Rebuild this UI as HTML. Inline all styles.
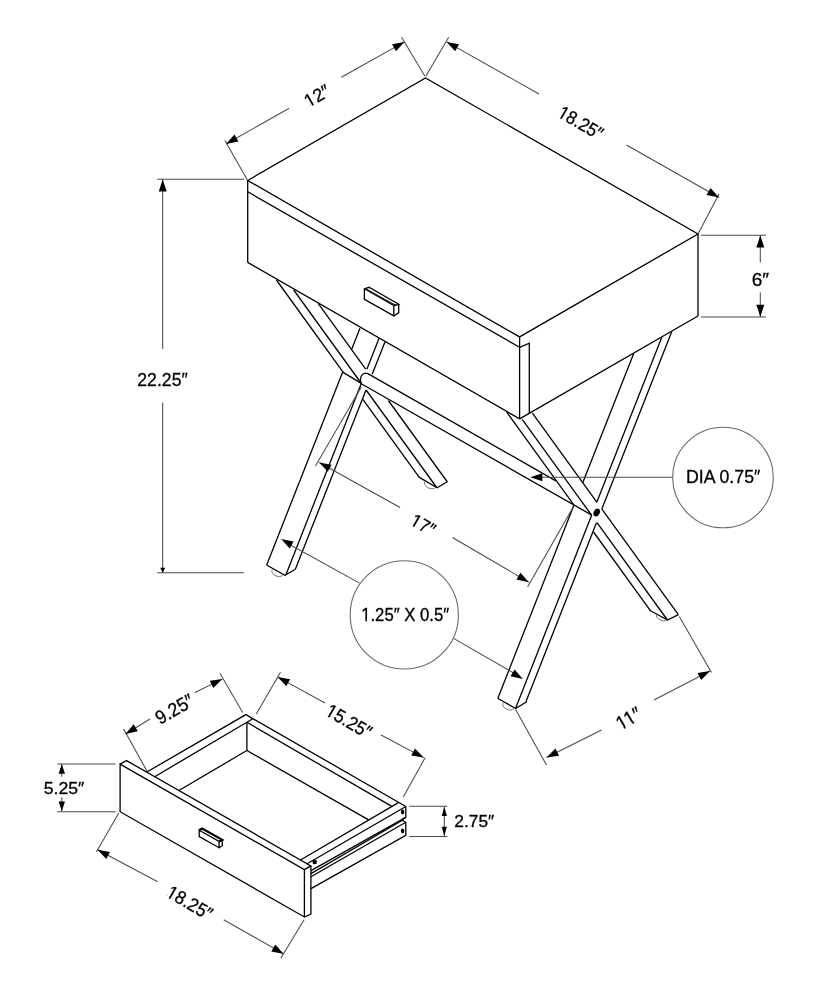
<!DOCTYPE html>
<html><head><meta charset="utf-8"><style>
html,body{margin:0;padding:0;background:#fff;}
svg{display:block;will-change:transform;}
text{font-family:"Liberation Sans",sans-serif;fill:#000;stroke:#000;stroke-width:0.3px;}
</style></head><body>
<svg width="824" height="1000" viewBox="0 0 824 1000">
<path d="M247.70 180.50 L425.50 78.00 L698.00 234.00 L519.60 336.90Z" stroke="#000" stroke-width="1.3" fill="none"/>
<path d="M247.70 180.50 L247.70 262.40" stroke="#000" stroke-width="1.3" fill="none"/>
<path d="M247.70 191.80 L519.60 347.30" stroke="#000" stroke-width="1.3" fill="none"/>
<path d="M247.70 262.40 L519.60 418.90" stroke="#000" stroke-width="1.3" fill="none"/>
<path d="M519.60 336.90 L519.60 418.90" stroke="#000" stroke-width="1.3" fill="none"/>
<path d="M519.60 347.30 L529.30 343.20 L529.30 413.30" stroke="#000" stroke-width="1.3" fill="none"/>
<path d="M698.00 234.00 L698.00 316.00" stroke="#000" stroke-width="1.3" fill="none"/>
<path d="M519.60 418.90 L698.00 316.00" stroke="#000" stroke-width="1.3" fill="none"/>
<path d="M364.40 288.80 L393.80 305.50 L393.80 315.80 L364.40 299.40Z" stroke="#000" stroke-width="1.3" fill="none"/>
<path d="M364.40 288.80 L369.00 287.30 L398.70 304.30 L393.80 305.50" stroke="#000" stroke-width="1.3" fill="none"/>
<path d="M366.50 289.10 L396.30 305.50" stroke="#000" stroke-width="0.9" fill="none"/>
<path d="M398.70 304.30 L398.70 312.80 L393.80 315.80" stroke="#000" stroke-width="1.3" fill="none"/>
<path d="M276.40 280.00 L343.08 372.10" stroke="#000" stroke-width="1.3" fill="none"/>
<path d="M362.85 399.40 L419.10 477.10" stroke="#000" stroke-width="1.3" fill="none"/>
<path d="M293.70 290.00 L360.67 382.50" stroke="#000" stroke-width="1.3" fill="none"/>
<path d="M366.10 390.00 L436.69 487.50" stroke="#000" stroke-width="1.3" fill="none"/>
<path d="M318.30 303.70 L365.72 369.20" stroke="#000" stroke-width="1.3" fill="none"/>
<path d="M388.38 400.50 L447.03 481.50" stroke="#000" stroke-width="1.3" fill="none"/>
<path d="M359.96 328.30 L351.72 349.20" stroke="#000" stroke-width="1.3" fill="none"/>
<path d="M342.70 372.10 L266.58 565.30" stroke="#000" stroke-width="1.3" fill="none"/>
<path d="M379.07 338.30 L366.89 369.20" stroke="#000" stroke-width="1.3" fill="none"/>
<path d="M361.30 383.40 L285.73 575.20" stroke="#000" stroke-width="1.3" fill="none"/>
<path d="M384.95 341.90 L372.19 374.30" stroke="#000" stroke-width="1.3" fill="none"/>
<path d="M366.00 390.00 L295.36 569.30" stroke="#000" stroke-width="1.3" fill="none"/>
<path d="M342.70 372.10 L361.30 383.40" stroke="#000" stroke-width="1.3" fill="none"/>
<path d="M418.90 477.10 L437.10 487.70 L447.70 481.50" stroke="#000" stroke-width="1.3" fill="none"/>
<path d="M267.00 565.30 L284.90 575.20 L295.40 569.30" stroke="#000" stroke-width="1.3" fill="none"/>
<path d="M649.60 610.30 L667.60 620.00 L678.30 614.70" stroke="#000" stroke-width="1.3" fill="none"/>
<path d="M497.60 698.30 L515.60 708.50 L526.70 701.70" stroke="#000" stroke-width="1.3" fill="none"/>
<path d="M367.9 373.6 L555.8 480.9 M361.3 383.8 L591.4 514.9 M367.9 373.6 C362 371.5 359 378 361.3 383.8" stroke="#000" stroke-width="1.3" fill="none"/>
<path d="M506.70 412.10 L573.81 504.80" stroke="#000" stroke-width="1.3" fill="none"/>
<path d="M593.51 532.00 L650.20 610.30" stroke="#000" stroke-width="1.3" fill="none"/>
<path d="M522.20 419.40 L591.41 515.00" stroke="#000" stroke-width="1.3" fill="none"/>
<path d="M596.99 522.70 L667.43 620.00" stroke="#000" stroke-width="1.3" fill="none"/>
<path d="M532.40 413.10 L596.98 502.30" stroke="#000" stroke-width="1.3" fill="none"/>
<path d="M601.90 509.10 L678.36 614.70" stroke="#000" stroke-width="1.3" fill="none"/>
<path d="M633.70 353.50 L582.83 482.60" stroke="#000" stroke-width="1.3" fill="none"/>
<path d="M574.08 504.80 L497.85 698.30" stroke="#000" stroke-width="1.3" fill="none"/>
<path d="M661.68 337.50 L596.78 502.20" stroke="#000" stroke-width="1.3" fill="none"/>
<path d="M591.74 515.00 L515.50 708.50" stroke="#000" stroke-width="1.3" fill="none"/>
<path d="M671.61 332.00 L601.83 509.10" stroke="#000" stroke-width="1.3" fill="none"/>
<path d="M596.48 522.70 L525.95 701.70" stroke="#000" stroke-width="1.3" fill="none"/>
<ellipse cx="596.7" cy="512.5" rx="3" ry="4.2" transform="rotate(25 596.7 512.5)" fill="#000"/>
<path d="M272.5 569.3 A6 4 20 0 0 282.7 575.2" stroke="#777" stroke-width="1" fill="none"/>
<path d="M425.1 481.5 A6 4 20 0 0 435.7 487.3" stroke="#777" stroke-width="1" fill="none"/>
<path d="M503.4 702.7 A6 4 20 0 0 514.1 708.5" stroke="#777" stroke-width="1" fill="none"/>
<path d="M656.4 614.7 A6 4 20 0 0 666.6 620" stroke="#777" stroke-width="1" fill="none"/>
<path d="M157.20 179.20 L244.10 179.20" stroke="#4a4a4a" stroke-width="1.05" fill="none"/>
<path d="M157.20 572.80 L244.10 572.80" stroke="#4a4a4a" stroke-width="1.05" fill="none"/>
<path d="M162.70 179.50 L162.70 349.00" stroke="#4a4a4a" stroke-width="1.05" fill="none"/>
<path d="M162.70 402.50 L162.70 572.80" stroke="#4a4a4a" stroke-width="1.05" fill="none"/>
<path d="M162.70 179.50 L166.70 191.50 L158.70 191.50Z" fill="#000"/>
<path d="M162.70 572.80 L160.20 567.80 L165.20 567.80Z" fill="#000"/>
<g><text id="t_22_25" x="162.50" y="386.08" text-anchor="middle" font-size="18.87" textLength="50.37" lengthAdjust="spacingAndGlyphs">22.25″</text></g>
<path d="M247.70 180.50 L224.90 140.40" stroke="#4a4a4a" stroke-width="1.05" fill="none"/>
<path d="M424.90 76.30 L401.60 37.20" stroke="#4a4a4a" stroke-width="1.05" fill="none"/>
<path d="M226.00 144.00 L289.20 108.20" stroke="#4a4a4a" stroke-width="1.05" fill="none"/>
<path d="M341.40 77.30 L404.50 41.90" stroke="#4a4a4a" stroke-width="1.05" fill="none"/>
<path d="M226.00 144.00 L234.47 134.61 L238.41 141.57Z" fill="#000"/>
<path d="M404.50 41.90 L395.99 51.26 L392.08 44.28Z" fill="#000"/>
<g transform="rotate(-30 316.96 95.92)"><text id="t_12" x="316.96" y="102.25" text-anchor="middle" font-size="18.41" textLength="26.73" lengthAdjust="spacingAndGlyphs">12″</text><rect x="303.95" y="100.55" width="4.17" height="4.21" fill="#fff"/><rect x="309.86" y="100.55" width="4.25" height="4.21" fill="#fff"/></g>
<path d="M425.80 76.30 L448.70 37.20" stroke="#4a4a4a" stroke-width="1.05" fill="none"/>
<path d="M698.00 234.00 L719.00 194.00" stroke="#4a4a4a" stroke-width="1.05" fill="none"/>
<path d="M446.60 41.90 L539.00 94.00" stroke="#4a4a4a" stroke-width="1.05" fill="none"/>
<path d="M626.50 145.00 L719.00 197.50" stroke="#4a4a4a" stroke-width="1.05" fill="none"/>
<path d="M446.60 41.90 L459.02 44.31 L455.09 51.28Z" fill="#000"/>
<path d="M719.00 197.50 L706.59 195.06 L710.54 188.10Z" fill="#000"/>
<g transform="rotate(30 580.66 122.74)"><text id="t_18_25a" x="580.66" y="129.15" text-anchor="middle" font-size="18.63" textLength="48.51" lengthAdjust="spacingAndGlyphs">18.25″</text><rect x="556.74" y="127.42" width="3.88" height="4.23" fill="#fff"/><rect x="562.24" y="127.42" width="3.96" height="4.23" fill="#fff"/></g>
<path d="M701.00 235.20 L765.80 235.20" stroke="#4a4a4a" stroke-width="1.05" fill="none"/>
<path d="M701.00 317.00 L765.80 317.00" stroke="#4a4a4a" stroke-width="1.05" fill="none"/>
<path d="M760.30 235.40 L760.30 262.40" stroke="#4a4a4a" stroke-width="1.05" fill="none"/>
<path d="M760.30 292.60 L760.30 317.00" stroke="#4a4a4a" stroke-width="1.05" fill="none"/>
<path d="M760.30 235.40 L764.30 247.40 L756.30 247.40Z" fill="#000"/>
<path d="M760.30 316.80 L756.30 304.80 L764.30 304.80Z" fill="#000"/>
<g><text id="t_6" x="760.42" y="285.54" text-anchor="middle" font-size="17.48" textLength="17.39" lengthAdjust="spacingAndGlyphs">6″</text></g>
<circle cx="723" cy="477.5" r="50.3" stroke="#6a6a6a" stroke-width="1.1" fill="none"/>
<path d="M672.60 477.30 L535.00 477.30" stroke="#4a4a4a" stroke-width="1.05" fill="none"/>
<path d="M530.30 477.30 L542.30 473.30 L542.30 481.30Z" fill="#000"/>
<g><text id="t_DIA" x="723.16" y="482.64" text-anchor="middle" font-size="18.87" textLength="74.19" lengthAdjust="spacingAndGlyphs">DIA 0.75″</text></g>
<path d="M361.30 387.00 L315.50 466.00" stroke="#4a4a4a" stroke-width="1.05" fill="none"/>
<path d="M572.50 508.20 L527.60 587.10" stroke="#4a4a4a" stroke-width="1.05" fill="none"/>
<path d="M319.20 462.50 L400.00 507.50" stroke="#4a4a4a" stroke-width="1.05" fill="none"/>
<path d="M452.50 537.50 L528.80 582.20" stroke="#4a4a4a" stroke-width="1.05" fill="none"/>
<path d="M319.20 462.50 L331.63 464.84 L327.74 471.83Z" fill="#000"/>
<path d="M528.80 582.20 L516.42 579.59 L520.47 572.68Z" fill="#000"/>
<g transform="rotate(30 423.12 524.92)"><text id="t_17" x="423.12" y="531.18" text-anchor="middle" font-size="18.21" textLength="25.31" lengthAdjust="spacingAndGlyphs">17″</text><rect x="410.80" y="529.49" width="3.95" height="4.19" fill="#fff"/><rect x="416.40" y="529.49" width="4.02" height="4.19" fill="#fff"/></g>
<circle cx="404.3" cy="614.9" r="54.1" stroke="#6a6a6a" stroke-width="1.1" fill="none"/>
<path d="M359.70 583.10 L285.00 542.00" stroke="#4a4a4a" stroke-width="1.05" fill="none"/>
<path d="M281.20 539.10 L293.62 541.48 L289.71 548.46Z" fill="#000"/>
<path d="M453.60 638.40 L518.00 675.50" stroke="#4a4a4a" stroke-width="1.05" fill="none"/>
<path d="M522.90 678.90 L510.52 676.30 L514.56 669.39Z" fill="#000"/>
<g><text id="t_125" x="405.20" y="620.59" text-anchor="middle" font-size="17.52" textLength="88.04" lengthAdjust="spacingAndGlyphs">1.25″ X 0.5″</text><rect x="361.51" y="618.96" width="3.82" height="4.13" fill="#fff"/><rect x="366.92" y="618.96" width="3.90" height="4.13" fill="#fff"/></g>
<path d="M679.30 616.60 L711.50 672.50" stroke="#4a4a4a" stroke-width="1.05" fill="none"/>
<path d="M515.60 709.50 L546.50 765.00" stroke="#4a4a4a" stroke-width="1.05" fill="none"/>
<path d="M546.50 757.50 L601.50 730.00" stroke="#4a4a4a" stroke-width="1.05" fill="none"/>
<path d="M654.00 700.00 L710.00 671.00" stroke="#4a4a4a" stroke-width="1.05" fill="none"/>
<path d="M546.50 757.50 L555.44 748.56 L559.02 755.71Z" fill="#000"/>
<path d="M710.00 671.00 L701.18 680.07 L697.50 672.97Z" fill="#000"/>
<g transform="rotate(-30 628.60 718.52)"><text id="t_11" x="628.60" y="725.41" text-anchor="middle" font-size="20.04" textLength="25.96" lengthAdjust="spacingAndGlyphs">11″</text><rect x="615.96" y="723.55" width="3.98" height="4.36" fill="#fff"/><rect x="621.60" y="723.55" width="4.06" height="4.36" fill="#fff"/><rect x="625.63" y="723.55" width="3.98" height="4.36" fill="#fff"/><rect x="631.27" y="723.55" width="4.06" height="4.36" fill="#fff"/></g>
<path d="M120.10 764.10 L304.40 869.60 L304.40 917.00 L120.10 811.70Z" stroke="#000" stroke-width="1.3" fill="none"/>
<path d="M120.10 764.10 L126.50 760.60 L310.90 865.90 L304.40 869.60" stroke="#000" stroke-width="1.3" fill="none"/>
<path d="M310.90 865.90 L310.90 914.00 L304.40 917.00" stroke="#000" stroke-width="1.3" fill="none"/>
<path d="M146.90 772.00 L245.90 714.60 L405.80 806.50" stroke="#000" stroke-width="1.3" fill="none"/>
<path d="M154.70 776.70 L252.80 718.70" stroke="#000" stroke-width="1.3" fill="none"/>
<path d="M246.90 722.30 L246.90 750.50 L178.90 790.50" stroke="#000" stroke-width="1.3" fill="none"/>
<path d="M246.90 722.30 L391.80 806.40" stroke="#000" stroke-width="1.3" fill="none"/>
<path d="M246.90 750.50 L368.60 819.90" stroke="#000" stroke-width="1.3" fill="none"/>
<path d="M398.40 802.60 L300.50 860.00" stroke="#000" stroke-width="1.3" fill="none"/>
<path d="M405.80 806.50 L307.10 863.80" stroke="#000" stroke-width="1.3" fill="none"/>
<path d="M405.80 806.50 L405.80 817.40 L402.80 819.00 L402.80 820.70 L405.80 822.30 L405.80 835.40 L311.00 888.60" stroke="#000" stroke-width="1.3" fill="none"/>
<path d="M405.80 817.40 L311.00 870.60" stroke="#000" stroke-width="1.3" fill="none"/>
<path d="M402.80 820.00 L311.00 873.60" stroke="#000" stroke-width="1.3" fill="none"/>
<path d="M405.80 822.30 L311.00 876.80" stroke="#000" stroke-width="1.3" fill="none"/>
<circle cx="314.7" cy="862" r="2.3" fill="#000"/>
<ellipse cx="402.6" cy="812" rx="1.7" ry="2.4" fill="#000"/>
<ellipse cx="402.6" cy="831" rx="1.7" ry="2.4" fill="#000"/>
<path d="M199.20 830.20 L219.10 841.40 L219.10 847.70 L199.20 836.50Z" stroke="#000" stroke-width="1.3" fill="none"/>
<path d="M199.20 830.20 L202.10 828.50 L222.30 839.90 L219.10 841.40" stroke="#000" stroke-width="2.2" fill="none"/>
<path d="M222.30 839.90 L222.30 845.70 L219.10 847.70" stroke="#000" stroke-width="1.3" fill="none"/>
<path d="M57.30 764.00 L115.60 764.00" stroke="#4a4a4a" stroke-width="1.05" fill="none"/>
<path d="M57.30 811.70 L115.60 811.70" stroke="#4a4a4a" stroke-width="1.05" fill="none"/>
<path d="M61.80 764.00 L61.80 776.70" stroke="#4a4a4a" stroke-width="1.05" fill="none"/>
<path d="M61.80 797.30 L61.80 811.30" stroke="#4a4a4a" stroke-width="1.05" fill="none"/>
<path d="M61.80 764.00 L65.00 773.70 L58.60 773.70Z" fill="#000"/>
<path d="M61.80 811.30 L58.60 801.60 L65.00 801.60Z" fill="#000"/>
<g><text id="t_5_25" x="64.04" y="793.82" text-anchor="middle" font-size="16.23" textLength="40.54" lengthAdjust="spacingAndGlyphs">5.25″</text></g>
<path d="M146.90 770.90 L123.60 729.10" stroke="#4a4a4a" stroke-width="1.05" fill="none"/>
<path d="M242.70 712.60 L219.90 673.30" stroke="#4a4a4a" stroke-width="1.05" fill="none"/>
<path d="M125.50 734.00 L150.00 719.00" stroke="#4a4a4a" stroke-width="1.05" fill="none"/>
<path d="M195.00 692.50 L222.30 679.10" stroke="#4a4a4a" stroke-width="1.05" fill="none"/>
<path d="M125.50 734.00 L133.65 724.32 L137.82 731.15Z" fill="#000"/>
<path d="M222.30 679.10 L213.29 687.98 L209.77 680.80Z" fill="#000"/>
<g transform="rotate(-30 174.42 709.18)"><text id="t_9_25" x="174.42" y="715.81" text-anchor="middle" font-size="19.28" textLength="40.84" lengthAdjust="spacingAndGlyphs">9.25″</text></g>
<path d="M256.30 714.00 L280.50 672.30" stroke="#4a4a4a" stroke-width="1.05" fill="none"/>
<path d="M403.30 796.90 L425.20 757.60" stroke="#4a4a4a" stroke-width="1.05" fill="none"/>
<path d="M277.70 677.10 L325.00 703.00" stroke="#4a4a4a" stroke-width="1.05" fill="none"/>
<path d="M381.00 735.00 L423.70 757.60" stroke="#4a4a4a" stroke-width="1.05" fill="none"/>
<path d="M277.70 677.10 L290.15 679.35 L286.30 686.37Z" fill="#000"/>
<path d="M423.70 757.60 L411.22 755.52 L414.97 748.45Z" fill="#000"/>
<g transform="rotate(30 348.84 721.20)"><text id="t_15_25" x="348.84" y="727.69" text-anchor="middle" font-size="18.86" textLength="49.44" lengthAdjust="spacingAndGlyphs">15.25″</text><rect x="324.46" y="725.94" width="3.96" height="4.25" fill="#fff"/><rect x="330.07" y="725.94" width="4.04" height="4.25" fill="#fff"/></g>
<path d="M409.30 806.30 L447.40 806.30" stroke="#4a4a4a" stroke-width="1.05" fill="none"/>
<path d="M409.30 836.50 L447.40 836.50" stroke="#4a4a4a" stroke-width="1.05" fill="none"/>
<path d="M444.30 806.70 L444.30 836.00" stroke="#4a4a4a" stroke-width="1.05" fill="none"/>
<path d="M444.30 806.70 L446.90 816.00 L441.70 816.00Z" fill="#000"/>
<path d="M444.30 836.00 L441.70 826.70 L446.90 826.70Z" fill="#000"/>
<g><text id="t_2_75" x="474.30" y="826.61" text-anchor="middle" font-size="17.4" textLength="39.88" lengthAdjust="spacingAndGlyphs">2.75″</text></g>
<path d="M118.80 812.90 L96.50 851.70" stroke="#4a4a4a" stroke-width="1.05" fill="none"/>
<path d="M304.10 919.70 L280.80 958.30" stroke="#4a4a4a" stroke-width="1.05" fill="none"/>
<path d="M97.50 849.80 L157.70 881.80" stroke="#4a4a4a" stroke-width="1.05" fill="none"/>
<path d="M223.70 919.70 L283.70 953.90" stroke="#4a4a4a" stroke-width="1.05" fill="none"/>
<path d="M97.50 849.80 L109.97 851.90 L106.22 858.96Z" fill="#000"/>
<path d="M283.70 953.90 L271.29 951.43 L275.26 944.48Z" fill="#000"/>
<g transform="rotate(30 189.64 902.80)"><text id="t_18_25b" x="189.64" y="909.29" text-anchor="middle" font-size="18.86" textLength="49.45" lengthAdjust="spacingAndGlyphs">18.25″</text><rect x="165.25" y="907.54" width="3.96" height="4.25" fill="#fff"/><rect x="170.86" y="907.54" width="4.04" height="4.25" fill="#fff"/></g>
</svg></body></html>
